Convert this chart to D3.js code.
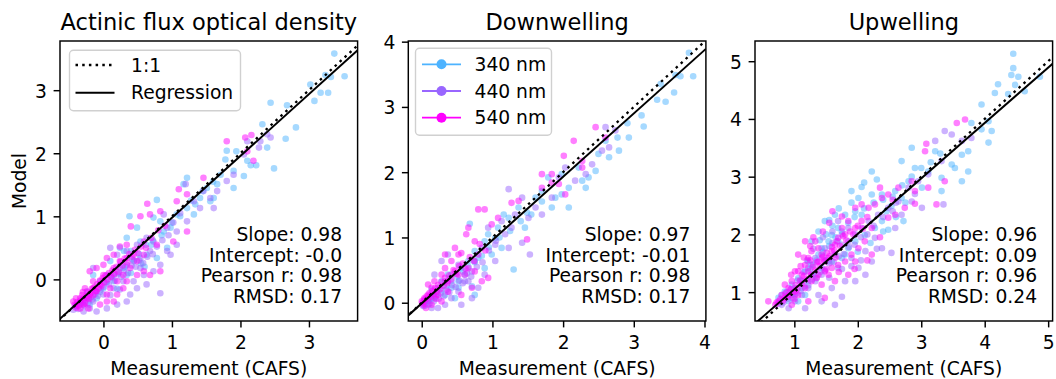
<!DOCTYPE html>
<html><head><meta charset="utf-8">
<script src="https://cdn.jsdelivr.net/npm/d3@7"></script>
<style>
html,body{margin:0;padding:0;background:#fff;}
svg{display:block;font-family:"DejaVu Sans",sans-serif;}
</style></head>
<body><svg id="chart" width="1056" height="379"></svg>
<script>
// ---------------- DATA ----------------
const titles = ["Actinic flux optical density", "Downwelling", "Upwelling"];
const wavelengths = ["340 nm", "440 nm", "540 nm"];
const seriesColors = ["#4db3ff", "#9966ff", "#ff00ff"];
const slopes = [0.98, 0.97, 0.96];
const intercepts = [-0.003, -0.01, 0.09];
const interceptLabels = ["-0.0", "-0.01", "0.09"];
const pearsonR = ["0.98", "0.98", "0.96"];
const rmsd = ["0.17", "0.17", "0.24"];
const xTicks = [[0, 1, 2, 3], [0, 1, 2, 3, 4], [1, 2, 3, 4, 5]];
const yTicks = [[0, 1, 2, 3], [0, 1, 2, 3, 4], [1, 2, 3, 4, 5]];
const xDomains = [[-0.634, 3.71], [-0.19, 4.02], [0.38, 5.07]];
const yDomains = [[-0.66, 3.78], [-0.28, 4.01], [0.50, 5.35]];

// Actinic flux optical density
const act340 = [[3.37,3.58],[3.52,3.22],[3.32,3.21],[3.24,3.24],[3.02,3.09],[3.17,2.96],[3.28,2.96],[3.08,2.83],[2.44,2.80],[2.68,2.76],[2.81,2.41],[2.66,2.23],[2.49,1.76],[2.23,1.81],[2.15,1.81],[2.05,1.64],[1.90,1.45],[1.80,2.04],[1.94,2.03],[1.78,1.90],[1.66,1.51],[1.34,1.19],[1.22,1.61],[0.78,1.26],[0.38,1.00],[0.88,0.76],[2.32,2.46],[1.56,1.24],[1.32,1.03],[1.22,1.13],[0.98,0.82],[0.83,0.92],[0.73,0.98],[1.07,1.03],[1.41,1.29],[1.51,1.45],[1.61,1.29],[0.49,0.82],[0.34,0.66],[0.24,0.50],[0.54,0.60],[0.63,0.39],[0.78,0.34],[0.34,0.07],[0.15,-0.03],[0.0,-0.14],[-0.10,-0.30],[-0.20,-0.40],[0.29,0.18],[0.93,0.50],[0.10,0.29],[-0.15,0.07],[1.17,1.51],[1.71,1.66],[1.90,1.72],[2.39,2.09],[2.10,1.88],[0.45,0.30],[0.60,0.20],[0.20,-0.15],[-0.05,-0.20],[-0.30,-0.35],[0.40,0.45],[0.70,0.55],
  [-0.30,-0.40],[-0.22,-0.30],[-0.12,-0.20],[0.05,-0.05],[0.12,0.05],[0.22,0.10],[0.32,0.20],[0.42,0.32],[0.52,0.40],[0.62,0.55],[0.72,0.62],[0.85,0.70],[1.00,0.90],[1.12,1.00],[1.28,1.25],[1.45,1.40],[1.60,1.55],[0.30,0.45],[0.55,0.25],[0.40,0.10]];
const act440 = [[2.44,2.25],[2.27,2.09],[2.29,2.19],[2.39,2.30],[1.90,1.66],[1.80,1.56],[1.61,1.13],[1.46,1.40],[1.20,1.51],[1.32,1.24],[1.41,1.13],[0.88,1.03],[0.93,0.82],[1.07,0.76],[0.93,0.45],[0.83,0.23],[0.73,0.13],[0.59,0.07],[0.83,-0.22],[0.24,-0.16],[0.63,-0.08],[0.49,-0.14],[0.39,-0.24],[0.34,-0.35],[0.20,-0.40],[0.05,-0.46],[-0.10,-0.51],[-0.20,-0.46],[-0.29,-0.51],[-0.34,-0.35],[-0.24,-0.19],[-0.05,-0.03],[0.05,0.07],[0.15,0.07],[0.24,0.18],[0.34,0.23],[0.44,0.29],[0.54,0.34],[0.68,0.45],[0.73,0.60],[0.63,0.66],[0.49,0.55],[0.34,0.45],[0.20,0.39],[0.10,0.50],[-0.15,0.18],[0.0,-0.24],[0.15,-0.14],[0.29,-0.03],[0.44,-0.03],[0.54,0.18],[0.98,0.39],[1.07,0.55],[1.22,0.92],[1.56,1.29],[2.05,1.98],[2.10,2.19],[1.66,1.40],[-0.40,-0.42],[-0.15,-0.35],[0.10,-0.25],
  [-0.44,-0.48],[-0.41,-0.43],[-0.37,-0.47],[-0.35,-0.40],[-0.32,-0.37],[-0.28,-0.42],[-0.26,-0.33],[-0.22,-0.37],[-0.18,-0.28],[-0.16,-0.32],[-0.12,-0.23],[-0.08,-0.26],[-0.04,-0.16],[0.0,-0.12],[0.04,-0.04],[0.08,-0.08],[0.12,0.02],[0.17,-0.02],[0.21,0.08],[0.26,0.04],[0.30,0.14],[0.36,0.10],[0.41,0.22],[0.47,0.20],[0.52,0.30],[0.58,0.26],[0.64,0.36],[0.72,0.40],[0.78,0.52],[0.86,0.62],[0.95,0.70],[1.02,0.90],[1.12,1.05]];
const act540 = [[1.80,2.19],[2.16,2.29],[2.07,2.25],[2.10,2.03],[2.19,1.88],[1.46,1.61],[1.10,1.43],[0.64,1.20],[0.40,0.84],[1.07,1.24],[1.22,1.35],[0.83,1.08],[0.68,1.03],[0.54,1.00],[0.34,0.55],[0.24,0.52],[1.22,0.76],[1.02,0.60],[0.78,0.55],[0.59,0.39],[0.49,0.29],[0.15,0.18],[-0.20,0.13],[-0.15,-0.03],[0.15,-0.35],[0.05,-0.24],[0.0,0.07],[-0.05,-0.08],[-0.10,-0.19],[-0.24,-0.30],[-0.29,-0.40],[-0.34,-0.46],[-0.39,-0.40],[-0.44,-0.35],[0.10,-0.14],[0.20,-0.03],[0.29,0.07],[0.39,0.18],[0.44,0.39],[0.15,0.39],[0.05,0.34],[0.34,-0.03],[0.49,0.07],[0.59,0.13],[0.68,0.07],[0.83,0.13],[0.29,-0.14],[0.20,-0.24],[-0.05,-0.40],[-0.20,-0.24],[-0.15,-0.14],[-0.27,-0.14],[0.0,0.23],[-0.10,0.18],[0.59,0.60],[0.24,0.29],[0.34,0.34],[-0.34,-0.30],[-0.22,-0.46],[0.05,-0.35],[-0.40,-0.45],[-0.30,-0.20],
  [-0.42,-0.40],[-0.40,-0.30],[-0.38,-0.36],[-0.36,-0.42],[-0.33,-0.33],[-0.31,-0.25],[-0.29,-0.30],[-0.27,-0.38],[-0.25,-0.27],[-0.23,-0.20],[-0.21,-0.31],[-0.19,-0.22],[-0.17,-0.15],[-0.15,-0.25],[-0.13,-0.12],[-0.11,-0.18],[-0.09,-0.08],[-0.07,-0.14],[-0.05,-0.02],[-0.03,-0.10],[-0.01,0.02],[0.01,-0.05],[0.03,0.06],[0.06,0.00],[0.08,0.10],[0.11,0.04],[0.13,0.14],[0.16,0.09],[0.19,0.20],[0.22,0.12],[0.25,0.28],[0.28,0.22],[0.31,0.33],[0.35,0.27],[0.38,0.40],[0.42,0.36],[0.46,0.47],[0.50,0.42],[0.55,0.52],[0.62,0.50],[0.70,0.66],[0.80,0.78],[0.90,0.85]];

// Downwelling
const down340 = [[3.78,3.83],[3.84,3.47],[3.66,3.47],[3.59,3.49],[3.57,3.22],[3.45,3.08],[3.33,3.11],[3.38,3.35],[3.14,2.70],[2.91,2.75],[2.93,2.53],[2.77,2.53],[2.79,2.33],[2.65,2.23],[2.46,2.02],[2.36,1.92],[2.32,1.76],[2.08,1.76],[1.98,1.66],[1.84,1.46],[1.70,1.71],[1.49,1.38],[1.30,0.51],[1.16,1.35],[0.94,1.05],[0.68,1.21],[2.60,2.48],[2.50,2.28],[2.22,2.07],[1.98,1.97],[1.79,1.92],[1.61,1.61],[1.37,1.46],[1.23,1.30],[1.08,1.15],[1.04,0.99],[0.89,0.94],[0.75,0.79],[0.80,0.69],[0.66,0.64],[0.61,0.43],[0.52,0.33],[0.42,0.23],[0.75,0.12],[0.71,0.25],[0.52,0.23],[0.33,0.12],[0.18,0.07],[0.09,0.02],[0.37,0.43],[0.28,0.33],[0.99,0.74],[1.13,0.84],[1.46,1.15],[1.89,1.61],[2.08,1.46],[2.27,1.87],[0.56,0.53],[0.89,0.53],[0.47,0.07],[3.11,2.87],[0.04,-0.05],[0.14,0.20],
  [0.03,0.01],[0.10,0.04],[0.16,0.10],[0.22,0.14],[0.28,0.20],[0.35,0.26],[0.42,0.33],[0.50,0.40],[0.58,0.48],[0.66,0.55],[0.75,0.62],[0.85,0.72],[0.95,0.85],[1.10,1.00],[1.25,1.10],[1.40,1.25],[1.55,1.35],[1.70,1.55]];
const down440 = [[1.23,1.74],[2.60,2.69],[2.65,2.38],[1.53,0.74],[1.42,0.92],[0.28,0.64],[0.71,0.07],[2.74,2.64],[2.55,2.33],[2.41,2.12],[2.17,1.87],[1.84,1.61],[1.61,1.46],[1.42,1.61],[1.32,1.35],[1.13,1.25],[1.18,1.05],[1.04,0.89],[0.94,1.15],[0.85,0.84],[0.75,0.64],[0.71,0.48],[0.61,0.33],[0.52,0.17],[0.42,0.07],[0.33,-0.03],[0.23,-0.08],[0.14,-0.08],[0.09,-0.03],[0.23,0.23],[0.33,0.33],[0.42,0.43],[0.52,0.58],[0.37,0.74],[0.18,0.43],[0.14,0.12],[0.80,0.23],[0.89,0.43],[1.04,0.64],[1.23,0.84],[1.27,1.15],[1.51,1.30],[1.70,1.35],[1.94,1.92],[2.03,2.07],[2.32,1.97],[0.56,-0.03],[0.66,0.33],[0.05,0.05],
  [0.02,-0.05],[0.05,-0.02],[0.08,0.03],[0.11,-0.01],[0.14,0.06],[0.17,0.02],[0.20,0.10],[0.24,0.06],[0.27,0.15],[0.31,0.10],[0.35,0.20],[0.39,0.16],[0.43,0.27],[0.48,0.24],[0.53,0.34],[0.58,0.30],[0.64,0.45],[0.70,0.40],[0.78,0.55],[0.86,0.62],[0.95,0.80],[1.05,0.95]];
const down540 = [[2.15,2.48],[2.01,2.25],[2.27,2.07],[1.84,1.84],[1.70,1.76],[1.27,1.53],[0.80,1.43],[0.89,1.43],[0.63,1.05],[0.66,1.15],[1.49,0.97],[0.56,0.76],[0.94,0.38],[2.46,2.69],[2.60,2.53],[1.37,1.56],[1.08,1.30],[0.99,1.20],[0.75,0.94],[0.52,0.74],[0.42,0.64],[0.33,0.53],[0.28,0.43],[0.37,0.33],[0.47,0.48],[0.61,0.43],[0.75,0.48],[0.85,0.33],[0.71,0.23],[0.56,0.12],[0.18,0.33],[0.14,0.23],[0.09,0.12],[0.04,0.07],[0.0,0.02],[0.02,-0.03],[0.14,-0.03],[0.28,0.02],[0.23,0.12],[0.37,0.17],[0.52,0.43],[0.66,0.53],[0.80,0.74],[0.33,0.74],[0.09,0.28],[0.47,0.84],[1.70,1.97],[1.84,1.97],[1.94,1.82],[2.03,1.66],[2.27,2.17],[0.06,-0.08],[0.20,0.06],
  [0.01,0.00],[0.03,0.05],[0.05,0.02],[0.07,0.10],[0.09,0.06],[0.11,0.15],[0.13,0.09],[0.15,0.18],[0.17,0.13],[0.19,0.22],[0.21,0.17],[0.23,0.27],[0.26,0.21],[0.28,0.32],[0.31,0.26],[0.33,0.38],[0.36,0.30],[0.39,0.42],[0.42,0.36],[0.45,0.50],[0.49,0.44],[0.53,0.56],[0.58,0.60],[0.62,0.52],[0.68,0.70],[0.74,0.64],[0.82,0.90],[0.90,0.80]];

// Upwelling
const up340 = [[4.45,5.13],[4.45,4.88],[4.42,4.76],[4.53,4.73],[4.48,4.59],[4.21,4.60],[4.16,4.45],[4.37,4.43],[4.63,4.48],[4.87,4.73],[3.95,4.25],[3.79,3.93],[3.95,3.82],[4.11,3.79],[4.06,3.59],[3.74,3.09],[3.53,3.15],[3.32,2.98],[2.22,3.09],[2.06,2.82],[1.90,2.55],[2.53,2.49],[2.72,2.23],[2.48,2.08],[1.22,1.53],[3.64,3.38],[3.48,3.21],[3.22,3.44],[3.11,3.09],[2.90,3.15],[2.80,2.92],[3.01,2.81],[2.69,2.63],[2.59,2.75],[2.38,2.69],[2.22,2.69],[2.01,2.63],[1.96,2.40],[1.80,2.34],[1.69,2.11],[1.59,1.99],[1.54,1.88],[1.43,1.76],[1.38,1.65],[1.27,1.47],[1.17,1.36],[1.06,1.24],[0.96,1.13],[0.85,1.01],[0.75,0.90],[2.38,2.23],[2.27,2.11],[2.11,1.99],[1.96,1.88],[1.85,1.76],[1.75,1.59],[1.59,1.53],[1.43,1.42],[1.33,1.30],[1.22,1.19],[1.12,1.07],[1.01,0.95],[0.91,0.84],[1.64,2.34],[1.48,2.23],[1.38,2.05],[1.27,1.88],[2.85,3.50],[2.69,3.27],[3.74,3.44],[4.06,3.96],[3.64,2.92],[3.32,2.75],[1.69,1.88],[2.06,2.34],[1.17,0.95],[1.06,0.84],
  [0.80,0.95],[0.95,1.05],[1.10,1.20],[1.25,1.40],[1.35,1.55],[1.45,1.70],[1.55,1.80],[1.65,1.95],[1.75,2.05],[1.85,2.20],[1.95,2.30],[2.10,2.45],[2.25,2.55],[2.40,2.60],[2.55,2.65],[2.70,2.85],[2.85,3.00],[3.00,3.15],[3.15,3.25],[3.30,3.40],[1.50,2.00],[1.40,1.90],[1.60,2.15],
  [1.90,2.75],[2.10,2.90],[2.30,2.95],[1.70,2.45],[1.55,2.25],[2.45,2.40],[2.60,2.30],[2.75,2.55],[1.30,1.30],[1.50,1.55],[1.80,1.65],[2.00,1.70],[2.20,1.85],[2.40,2.05]];
const up440 = [[3.37,3.79],[3.35,2.52],[2.53,1.68],[1.75,0.92],[3.22,3.62],[3.48,3.73],[3.79,3.67],[3.32,3.27],[3.11,3.04],[2.95,2.92],[2.80,2.81],[2.64,2.57],[2.48,2.46],[2.32,2.34],[2.17,2.23],[2.06,2.11],[1.96,2.00],[1.85,1.88],[1.75,1.82],[1.64,1.65],[1.54,1.53],[1.43,1.30],[1.33,1.19],[1.22,1.07],[1.12,0.95],[1.01,0.84],[0.91,0.72],[0.80,0.78],[1.17,0.72],[1.38,0.95],[1.59,1.07],[1.80,1.19],[2.01,1.42],[2.22,1.53],[2.38,1.76],[2.12,1.71],[1.90,1.59],[1.69,1.42],[1.48,1.76],[1.33,1.59],[1.22,1.42],[1.12,1.19],[1.01,1.07],[2.69,2.34],[2.85,2.57],[3.01,2.46],[2.27,1.94],[1.96,1.19],[2.12,1.30],[1.43,0.84],[1.64,0.78],[2.59,2.11],[1.69,2.23],[1.85,2.11],[3.64,3.62],[1.27,1.30],[0.96,0.95],
  [0.75,0.80],[0.83,0.82],[0.90,0.88],[0.97,0.90],[1.03,0.98],[1.10,1.02],[1.16,1.10],[1.22,1.12],[1.28,1.22],[1.35,1.24],[1.41,1.35],[1.48,1.38],[1.55,1.50],[1.62,1.52],[1.70,1.62],[1.78,1.66],[1.86,1.78],[1.95,1.82],[2.05,1.95],[2.15,2.00],[2.25,2.15],[2.40,2.30],[2.55,2.40],[1.15,1.35],[1.30,1.48],[1.45,1.62],[1.60,1.85],[1.75,2.00],[0.88,1.00],[1.05,1.20],
  [1.30,1.75],[1.45,1.95],[1.55,1.25],[1.75,1.40],[1.90,1.45],[2.05,1.55],[2.30,1.75],[1.20,1.55],[1.60,2.05],[2.60,2.55],[2.90,2.70]];
const up540 = [[3.56,3.93],[3.69,3.99],[3.08,3.57],[3.24,2.52],[2.90,2.53],[2.35,2.81],[1.75,2.31],[1.06,1.36],[1.48,0.90],[0.59,0.84],[3.06,3.44],[2.85,2.92],[2.64,2.81],[2.48,2.69],[2.38,2.63],[2.27,2.52],[2.17,2.46],[2.06,2.52],[1.96,2.46],[1.85,2.23],[1.75,2.11],[1.69,1.94],[1.64,1.82],[1.59,1.71],[1.54,1.59],[1.48,1.53],[1.43,1.65],[1.38,1.76],[1.33,1.88],[1.27,1.71],[1.22,1.59],[1.17,1.47],[1.12,1.30],[1.01,1.36],[0.96,1.19],[0.91,1.07],[0.85,1.13],[0.80,0.95],[0.75,0.84],[0.70,0.78],[0.96,0.78],[1.06,0.95],[1.17,1.07],[1.27,1.19],[1.38,1.30],[1.48,1.36],[1.59,1.42],[1.69,1.47],[1.80,1.53],[1.90,1.65],[2.01,1.76],[2.11,1.88],[2.22,1.65],[1.96,1.53],[1.85,1.30],[1.64,1.19],[1.43,1.13],[1.22,0.84],[0.91,0.95],[1.96,2.11],[2.06,2.23],[1.80,2.00],[2.22,2.11],[2.48,2.29],[2.59,2.34],[2.74,2.46],[1.17,1.88],[1.06,1.65],[2.90,2.75],[3.11,2.81],[3.37,2.92],[1.38,1.53],[1.54,1.30],[0.85,0.90],[1.01,1.01],
  [0.72,0.82],[0.78,0.88],[0.82,0.85],[0.86,0.98],[0.90,0.92],[0.94,1.05],[0.98,1.00],[1.02,1.12],[1.05,1.06],[1.09,1.20],[1.12,1.14],[1.15,1.28],[1.19,1.22],[1.22,1.36],[1.26,1.30],[1.29,1.44],[1.33,1.38],[1.36,1.52],[1.40,1.45],[1.44,1.60],[1.47,1.55],[1.51,1.68],[1.55,1.62],[1.59,1.78],[1.63,1.72],[1.67,1.88],[1.72,1.80],[1.77,1.97],[1.82,1.90],[1.88,2.05],[1.93,2.00],[2.00,2.15],[2.08,2.10],[2.15,2.30],[1.10,1.45],[1.25,1.55],[1.35,1.25],[1.50,1.40],[1.65,1.60],[1.00,0.88],
  [1.30,1.95],[1.45,2.05],[1.55,2.20],[1.25,1.80],[1.70,1.35],[1.95,1.40],[2.15,1.55],[2.35,1.95],[0.95,1.30],[1.15,1.60],[2.55,2.60],[1.60,2.40]];

const panelData = [
  [act340, act440, act540],
  [down340, down440, down540],
  [up340, up440, up540]
];

// ---------------- LAYOUT ----------------
const svg = d3.select("#chart");
const FS = 18.7;
const axLeft = [60, 408.3, 755];
const axW = 297.6;
const axTop = 41, axBottom = 321;
const tickLen = 6.4, spineW = 1.46;

panelData.forEach((series, pi) => {
  const x0 = axLeft[pi], x1 = x0 + axW;
  const x = d3.scaleLinear().domain(xDomains[pi]).range([x0, x1]);
  const y = d3.scaleLinear().domain(yDomains[pi]).range([axBottom, axTop]);
  const g = svg.append("g");

  const clipId = "clip" + pi;
  svg.append("clipPath").attr("id", clipId).append("rect")
    .attr("x", x0).attr("y", axTop).attr("width", axW).attr("height", axBottom - axTop);

  const plot = g.append("g").attr("clip-path", `url(#${clipId})`);

  series.forEach((pts, si) => {
    plot.append("g").selectAll("circle").data(pts).join("circle")
      .attr("cx", d => x(d[0])).attr("cy", d => y(d[1])).attr("r", 3.3)
      .attr("fill", seriesColors[si]).attr("fill-opacity", 0.5);
  });

  const lo = Math.min(xDomains[pi][0], yDomains[pi][0]) - 1;
  const hi = Math.max(xDomains[pi][1], yDomains[pi][1]) + 1;
  plot.append("line")
    .attr("x1", x(lo)).attr("y1", y(lo)).attr("x2", x(hi)).attr("y2", y(hi))
    .attr("stroke", "#000").attr("stroke-width", 2.3).attr("stroke-dasharray", "2.5,4.2");
  const xr = xDomains[pi];
  plot.append("line")
    .attr("x1", x(xr[0])).attr("y1", y(slopes[pi] * xr[0] + intercepts[pi]))
    .attr("x2", x(xr[1])).attr("y2", y(slopes[pi] * xr[1] + intercepts[pi]))
    .attr("stroke", "#000").attr("stroke-width", 2.0);

  const xa = g.append("g").attr("transform", `translate(0,${axBottom})`)
    .call(d3.axisBottom(x).tickValues(xTicks[pi]).tickFormat(d3.format("d")).tickSize(tickLen).tickSizeOuter(0).tickPadding(8.4));
  const ya = g.append("g").attr("transform", `translate(${x0},0)`)
    .call(d3.axisLeft(y).tickValues(yTicks[pi]).tickFormat(d3.format("d")).tickSize(tickLen).tickSizeOuter(0).tickPadding(6.6));
  [xa, ya].forEach(a => {
    a.select(".domain").remove();
    a.selectAll("line").attr("stroke", "#000").attr("stroke-width", spineW);
    a.selectAll("text").attr("font-size", FS).attr("font-family", "DejaVu Sans").attr("fill", "#000");
  });
  ya.selectAll("text").attr("dy", "0.37em");
  xa.selectAll("text").attr("dy", "0.72em");

  g.append("rect").attr("x", x0).attr("y", axTop).attr("width", axW).attr("height", axBottom - axTop)
    .attr("fill", "none").attr("stroke", "#000").attr("stroke-width", spineW);

  g.append("text").attr("x", (x0 + x1) / 2).attr("y", 29.5).attr("text-anchor", "middle")
    .attr("font-size", 22.5).text(titles[pi]);
  g.append("text").attr("x", (x0 + x1) / 2).attr("y", 375).attr("text-anchor", "middle")
    .attr("font-size", FS).text("Measurement (CAFS)");

  const statLines = [
    "Slope: " + slopes[pi].toFixed(2),
    "Intercept: " + interceptLabels[pi],
    "Pearson r: " + pearsonR[pi],
    "RMSD: " + rmsd[pi]
  ];
  statLines.forEach((t, i) => {
    g.append("text").attr("x", x1 - 15.5).attr("y", 241.3 + i * 20.5)
      .attr("text-anchor", "end").attr("font-size", FS).text(t);
  });
});

svg.append("text").attr("transform", "translate(26,181) rotate(-90)")
  .attr("text-anchor", "middle").attr("font-size", FS).text("Model");

{
  const lg = svg.append("g");
  lg.append("rect").attr("x", 69.5).attr("y", 50.3).attr("width", 171).attr("height", 60.5)
    .attr("rx", 4).attr("fill", "#fff").attr("fill-opacity", 0.8)
    .attr("stroke", "#d0d0d0").attr("stroke-width", 1.4);
  const rows = [{lab: "1:1", dash: "2.5,4.2", w: 2.3}, {lab: "Regression", dash: null, w: 2.0}];
  rows.forEach((r, i) => {
    const cy = 65 + i * 27.7;
    const l = lg.append("line").attr("x1", 75.5).attr("x2", 114.5).attr("y1", cy).attr("y2", cy)
      .attr("stroke", "#000").attr("stroke-width", r.w);
    if (r.dash) l.attr("stroke-dasharray", r.dash);
    lg.append("text").attr("x", 131).attr("y", cy + 6.6).attr("font-size", FS).text(r.lab);
  });
}
{
  const lg = svg.append("g");
  lg.append("rect").attr("x", 415.5).attr("y", 48.3).attr("width", 136).attr("height", 87)
    .attr("rx", 4).attr("fill", "#fff").attr("fill-opacity", 0.8)
    .attr("stroke", "#d0d0d0").attr("stroke-width", 1.4);
  wavelengths.forEach((w, i) => {
    const cy = 64.3 + i * 26.7;
    lg.append("line").attr("x1", 422).attr("x2", 461).attr("y1", cy).attr("y2", cy)
      .attr("stroke", seriesColors[i]).attr("stroke-width", 1.8);
    lg.append("circle").attr("cx", 441.5).attr("cy", cy).attr("r", 5).attr("fill", seriesColors[i]);
    lg.append("text").attr("x", 474.5).attr("y", cy + 6.6).attr("font-size", FS).text(w);
  });
}
</script>
</body></html>
